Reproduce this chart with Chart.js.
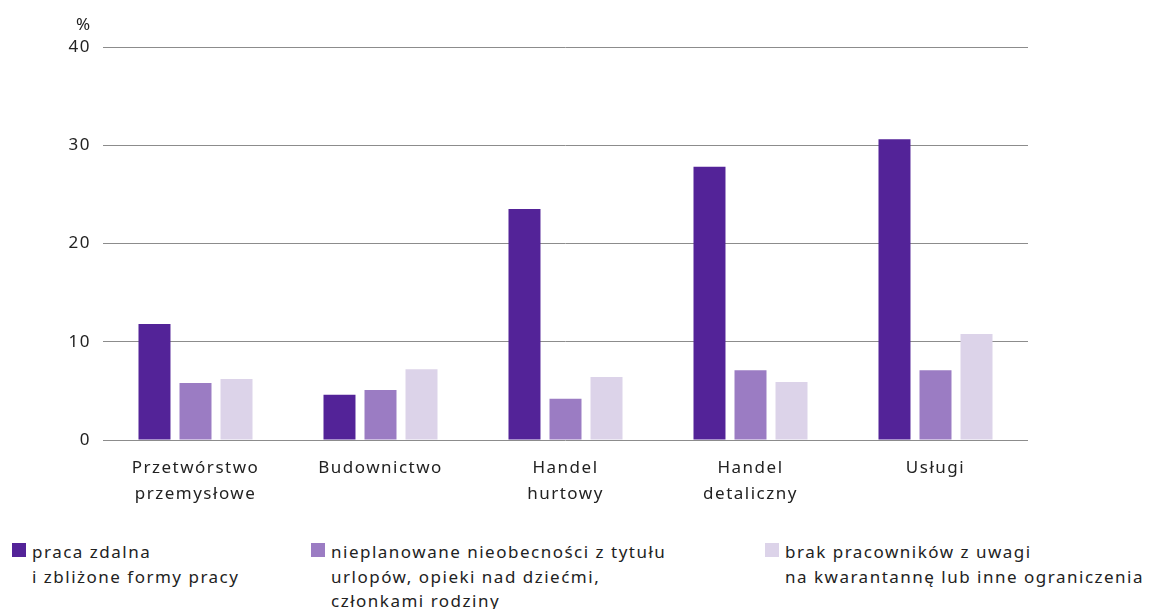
<!DOCTYPE html>
<html lang="pl">
<head>
<meta charset="utf-8">
<script src="https://cdn.jsdelivr.net/npm/chart.js@4"></script>
<style>
  html, body { margin: 0; padding: 0; background: #fff; }
  body { width: 1151px; height: 609px; position: relative; overflow: hidden;
         font-family: "Noto Sans", "Open Sans", sans-serif; color: #222; }
  #wrap { position: absolute; left: 0; top: 0; width: 1151px; height: 520px; }
  #unit { position: absolute; left: 76px; top: 12px; font-size: 17px; letter-spacing: 1.5px; }
  .leg { position: absolute; top: 540px; font-size: 17px; line-height: 24.5px;
         letter-spacing: 1.5px; white-space: nowrap; }
  .leg i { position: absolute; left: -20px; top: 3px; width: 14px; height: 14px; }
</style>
</head>
<body>
<div id="wrap"><canvas id="chart"></canvas></div>
<div id="unit">%</div>
<div id="legend"></div>

<script>
//  Data 
const categories = [
  ['Przetwórstwo', 'przemysłowe'],
  'Budownictwo',
  ['Handel', 'hurtowy'],
  ['Handel', 'detaliczny'],
  'Usługi'
];
const seriesLabels = [
  ['praca zdalna', 'i zbliżone formy pracy'],
  ['nieplanowane nieobecności z tytułu', 'urlopów, opieki nad dziećmi,', 'członkami rodziny'],
  ['brak pracowników z uwagi', 'na kwarantannę lub inne ograniczenia']
];
const remoteWork    = [11.8, 4.6, 23.5, 27.8, 30.6];
const absences      = [5.8, 5.1, 4.2, 7.1, 7.1];
const staffShortage = [6.2, 7.2, 6.4, 5.9, 10.8];
const yTicks = [0, 10, 20, 30, 40];

const colors = ['#532398', '#9b7cc3', '#dcd3e9'];
const legendX = [32, 331, 785];

//  Legend (HTML) 
const legendEl = document.getElementById('legend');
seriesLabels.forEach((lines, i) => {
  const d = document.createElement('div');
  d.className = 'leg';
  d.style.left = legendX[i] + 'px';
  d.innerHTML = `<i style="background:${colors[i]}"></i>` + lines.join('<br>');
  legendEl.appendChild(d);
});

//  Chart 
const font = { family: '"Noto Sans", "Open Sans", sans-serif', size: 17, lineHeight: 1.55 };

// canvas text gets the same wide tracking as the reference
const tracking = {
  id: 'tracking',
  beforeDraw: chart => { chart.ctx.letterSpacing = '1.5px'; }
};

new Chart(document.getElementById('chart'), {
  type: 'bar',
  data: {
    labels: categories,
    datasets: [remoteWork, absences, staffShortage].map((data, i) => ({
      label: seriesLabels[i].join(' '),
      data,
      backgroundColor: colors[i],
      borderWidth: 0,
      categoryPercentage: 0.665,
      barPercentage: 0.78
    }))
  },
  plugins: [tracking],
  options: {
    responsive: true,
    maintainAspectRatio: false,
    animation: false,
    layout: { padding: { top: 47, right: 123, left: 0, bottom: 0 } },
    plugins: { legend: { display: false }, tooltip: { enabled: false } },
    scales: {
      x: {
        grid: { display: false },
        border: { display: false },
        ticks: { color: '#222', font, padding: 7, maxRotation: 0, autoSkip: false },
        afterFit: s => { s.height = 80; }
      },
      y: {
        min: 0, max: 40,
        afterBuildTicks: s => { s.ticks = yTicks.map(v => ({ value: v })); },
        grid: { color: '#8c8c8c', lineWidth: 1, drawTicks: false },
        border: { display: false },
        ticks: { color: '#222', font, padding: 12 },
        afterFit: s => { s.width = 103; }
      }
    }
  }
});
</script>
</body>
</html>
